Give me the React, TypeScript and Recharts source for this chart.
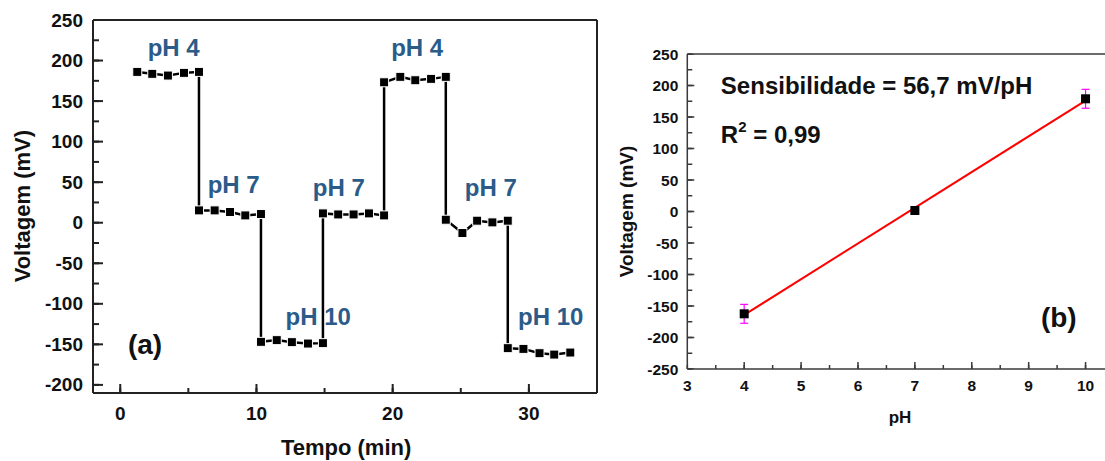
import React from 'react';
import { ComposedChart, Line, Scatter, XAxis, YAxis, ReferenceDot, ReferenceLine, ErrorBar } from 'recharts';

// ---------- Panel (a): voltage vs time ----------
const timeMin = [
  1.25, 2.35, 3.5, 4.68, 5.78,
  5.78, 6.93, 8.06, 9.18, 10.33,
  10.33, 11.49, 12.6, 13.78, 14.88,
  14.88, 16.0, 17.13, 18.26, 19.37,
  19.37, 20.56, 21.66, 22.82, 23.9,
  23.9, 25.12, 26.2, 27.32, 28.45,
  28.45, 29.6, 30.78, 31.86, 33.04,
];
const voltageMv = [
  186, 183.6, 181.5, 184.8, 186,
  15.2, 15.2, 13.2, 9.0, 10.7,
  -146.9, -144.8, -147.3, -149, -148.5,
  11.5, 10.2, 10.2, 11.5, 9.0,
  173.2, 179.9, 175.7, 177.4, 179.9,
  3.7, -12.7, 2.5, 0.4, 2.5,
  -154.7, -155.6, -160.9, -162.6, -160.1,
];
const phLabelText = ['pH 4', 'pH 7', 'pH 10', 'pH 7', 'pH 4', 'pH 7', 'pH 10'];
const phLabelT = [3.92, 8.33, 14.54, 16.05, 21.8, 27.2, 31.6];
const phLabelV = [216, 47, -116, 44, 216, 44, -116];
const leftXTicks = [0, 5, 10, 15, 20, 25, 30];
const leftYTicks = [-200, -175, -150, -125, -100, -75, -50, -25, 0, 25, 50, 75, 100, 125, 150, 175, 200, 225, 250];

// ---------- Panel (b): calibration ----------
const phValues = [4, 7, 10];
const phVoltage = [-162.4, 1.6, 178.9];
const phError = [15, 4, 15];
const fitPh = [4, 10];
const fitVoltage = [-164.1, 176.1];
const rightXTicks = [3, 3.5, 4, 4.5, 5, 5.5, 6, 6.5, 7, 7.5, 8, 8.5, 9, 9.5, 10];
const rightYTicks = [-250, -225, -200, -175, -150, -125, -100, -75, -50, -25, 0, 25, 50, 75, 100, 125, 150, 175, 200, 225, 250];

const leftData = timeMin.map((t, i) => ({ t, v: voltageMv[i] }));
const phLabels = phLabelText.map((s, i) => ({ s, t: phLabelT[i], v: phLabelV[i] }));
const calData = phValues.map((x, i) => ({ x, y: phVoltage[i], err: phError[i] }));
const fitData = fitPh.map((x, i) => ({ x, y: fitVoltage[i] }));

const L_XDOM = [-2, 35];
const L_YDOM = [-210, 250];
const R_XDOM = [3, 10.5];
const R_YDOM = [-250, 250];

// longer marks for the major ticks (the axes draw the short minor-length marks)
const leftYTickMarks = leftYTicks.filter((v) => v % 50 === 0).map((v) => ({ t: L_XDOM[0], v, len: 10, dir: 'h' }));
const leftXTickMarks = leftXTicks.filter((t) => t % 10 === 0).map((t) => ({ t, v: L_YDOM[0], len: 9, dir: 'v' }));
const rightYTickMarks = rightYTicks.filter((y) => y % 50 === 0).map((y) => ({ x: R_XDOM[0], y, len: 7, dir: 'h' }));
const rightXTickMarks = rightXTicks.filter((x) => Number.isInteger(x)).map((x) => ({ x, y: R_YDOM[0], len: 7, dir: 'v' }));

const FONT = '"Liberation Sans", Arial, sans-serif';
const AXIS_L = '#222';
const AXIS_R = '#3a3a3a';
const BLUE = '#2B5B89';

// native inward tick lengths (negative tickSize draws marks inside the plot)
const L_Y_TS = 6;
const L_X_TS = 5;
const R_Y_TS = 5;
const R_X_TS = 4;

const LeftYTick = (p: any) => {
  const v = Number(p.payload.value);
  if (v % 50 !== 0) return <g />;
  return (
    <text x={Number(p.x) - L_Y_TS - 10} y={Number(p.y)} textAnchor="end" dominantBaseline="central" fontFamily={FONT} fontWeight="bold" fontSize={19} fill="#111">
      {v}
    </text>
  );
};

const LeftXTick = (p: any) => {
  const v = Number(p.payload.value);
  if (v % 10 !== 0) return <g />;
  return (
    <text x={Number(p.x)} y={Number(p.y) + L_X_TS + 20} textAnchor="middle" dominantBaseline="central" fontFamily={FONT} fontWeight="bold" fontSize={19} fill="#111">
      {v}
    </text>
  );
};

const RightYTick = (p: any) => {
  const v = Number(p.payload.value);
  if (v % 50 !== 0) return <g />;
  return (
    <text x={Number(p.x) - R_Y_TS - 9} y={Number(p.y)} textAnchor="end" dominantBaseline="central" fontFamily={FONT} fontWeight="bold" fontSize={15.5} fill="#111">
      {v}
    </text>
  );
};

const RightXTick = (p: any) => {
  const v = Number(p.payload.value);
  if (!Number.isInteger(v)) return <g />;
  return (
    <text x={Number(p.x)} y={Number(p.y) + R_X_TS + 16} textAnchor="middle" dominantBaseline="central" fontFamily={FONT} fontWeight="bold" fontSize={15.5} fill="#111">
      {v}
    </text>
  );
};

const tickMarkShape = (color: string, width: number) => (p: any) => {
  const len = p.payload.len;
  const cx = Number(p.cx);
  const cy = Number(p.cy);
  const d = p.payload.dir === 'h' ? `M${cx},${cy}L${cx + len},${cy}` : `M${cx},${cy}L${cx},${cy - len}`;
  return <path d={d} stroke={color} strokeWidth={width} fill="none" />;
};

const squareDot = (p: any) => (
  <rect key={`sq-${p.index}`} x={p.cx - 4.5} y={p.cy - 4.5} width={9} height={9} fill="#000" stroke="#fff" strokeWidth={1} />
);

const calSquare = (p: any) => (
  <rect x={p.cx - 4.5} y={p.cy - 4.5} width={9} height={9} fill="#000" />
);

const textShape = (txt: string, size: number, fill: string, anchor: string, rotate = false) => (p: any) => (
  <text
    x={p.cx}
    y={p.cy}
    transform={rotate ? `rotate(-90, ${p.cx}, ${p.cy})` : undefined}
    textAnchor={anchor}
    dominantBaseline="central"
    fontFamily={FONT}
    fontWeight="bold"
    fontSize={size}
    fill={fill}
  >
    {txt}
  </text>
);

export default function App() {
  return (
    <div style={{ position: 'fixed', left: 0, top: 0, width: 1105, height: 461, overflow: 'hidden', background: '#fff' }}>
      <div style={{ position: 'absolute', left: 0, top: 0 }}>
        <ComposedChart width={600} height={461} data={leftData} margin={{ top: 20, right: 3, bottom: 0, left: 0 }}>
          <XAxis
            dataKey="t"
            type="number"
            domain={L_XDOM}
            allowDataOverflow
            ticks={leftXTicks}
            interval={0}
            height={68}
            tickSize={-L_X_TS}
            tickMargin={0}
            tickLine={{ stroke: AXIS_L, strokeWidth: 2 }}
            tick={LeftXTick}
            axisLine={{ stroke: AXIS_L, strokeWidth: 2 }}
          />
          <YAxis
            type="number"
            domain={L_YDOM}
            allowDataOverflow
            ticks={leftYTicks}
            interval={0}
            width={93}
            tickSize={-L_Y_TS}
            tickMargin={0}
            tickLine={{ stroke: AXIS_L, strokeWidth: 2 }}
            tick={LeftYTick}
            axisLine={{ stroke: AXIS_L, strokeWidth: 2 }}
          />
          <ReferenceLine y={250} stroke={AXIS_L} strokeWidth={2} ifOverflow="visible" />
          <ReferenceLine x={35} stroke={AXIS_L} strokeWidth={2} ifOverflow="visible" />
          <Scatter data={leftYTickMarks} dataKey="v" shape={tickMarkShape(AXIS_L, 2)} isAnimationActive={false} />
          <Scatter data={leftXTickMarks} dataKey="v" shape={tickMarkShape(AXIS_L, 2)} isAnimationActive={false} />
          <Line dataKey="v" type="linear" stroke="#000" strokeWidth={2.5} dot={squareDot} activeDot={false} isAnimationActive={false} />
          {phLabels.map((l, i) => (
            <ReferenceDot key={`lbl-${i}`} x={l.t} y={l.v} r={0} shape={textShape(l.s, 24, BLUE, 'middle')} />
          ))}
          <ReferenceDot x={1.82} y={-150.6} r={0} shape={textShape('(a)', 28, '#111', 'middle')} />
          <ReferenceDot x={16.58} y={-277.8} r={0} ifOverflow="visible" shape={textShape('Tempo (min)', 22, '#111', 'middle')} />
          <ReferenceDot x={-7.14} y={20.4} r={0} ifOverflow="visible" shape={textShape('Voltagem (mV)', 22, '#111', 'middle', true)} />
        </ComposedChart>
      </div>

      <div style={{ position: 'absolute', left: 600, top: 0 }}>
        <ComposedChart width={520} height={461} margin={{ top: 54, right: 6, bottom: 0, left: 0 }}>
          <XAxis
            dataKey="x"
            type="number"
            domain={R_XDOM}
            allowDataOverflow
            ticks={rightXTicks}
            interval={0}
            height={92}
            tickSize={-R_X_TS}
            tickMargin={0}
            tickLine={{ stroke: AXIS_R, strokeWidth: 1.5 }}
            tick={RightXTick}
            axisLine={{ stroke: AXIS_R, strokeWidth: 1.5 }}
          />
          <YAxis
            dataKey="y"
            type="number"
            domain={R_YDOM}
            allowDataOverflow
            ticks={rightYTicks}
            interval={0}
            width={87.3}
            tickSize={-R_Y_TS}
            tickMargin={0}
            tickLine={{ stroke: AXIS_R, strokeWidth: 1.5 }}
            tick={RightYTick}
            axisLine={{ stroke: AXIS_R, strokeWidth: 1.5 }}
          />
          <ReferenceLine y={250} stroke={AXIS_R} strokeWidth={1.5} ifOverflow="visible" />
          <ReferenceLine x={10.5} stroke={AXIS_R} strokeWidth={1.5} ifOverflow="visible" />
          <Scatter data={rightYTickMarks} dataKey="y" shape={tickMarkShape(AXIS_R, 1.5)} isAnimationActive={false} />
          <Scatter data={rightXTickMarks} dataKey="y" shape={tickMarkShape(AXIS_R, 1.5)} isAnimationActive={false} />
          <Line data={fitData} dataKey="y" type="linear" stroke="#ff0000" strokeWidth={2} dot={false} activeDot={false} isAnimationActive={false} />
          <Scatter data={calData} dataKey="y" shape={calSquare} isAnimationActive={false}>
            <ErrorBar dataKey="err" direction="y" stroke="#ff00ff" strokeWidth={1.2} width={4} />
          </Scatter>
          <ReferenceDot x={3.59} y={200} r={0} shape={textShape('Sensibilidade = 56,7 mV/pH', 24, '#111', 'start')} />
          <ReferenceDot
            x={3.59}
            y={123}
            r={0}
            shape={(p: any) => (
              <text x={p.cx} y={p.cy} textAnchor="start" dominantBaseline="central" fontFamily={FONT} fontWeight="bold" fontSize={24} fill="#111">
                R
                <tspan dy={-8} fontSize={15}>2</tspan>
                <tspan dy={8}> = 0,99</tspan>
              </text>
            )}
          />
          <ReferenceDot x={9.53} y={-168.7} r={0} shape={textShape('(b)', 28, '#111', 'middle')} />
          <ReferenceDot x={6.74} y={-326.2} r={0} ifOverflow="visible" shape={textShape('pH', 17, '#111', 'middle')} />
          <ReferenceDot x={1.94} y={0} r={0} ifOverflow="visible" shape={textShape('Voltagem (mV)', 19, '#111', 'middle', true)} />
        </ComposedChart>
      </div>
    </div>
  );
}
